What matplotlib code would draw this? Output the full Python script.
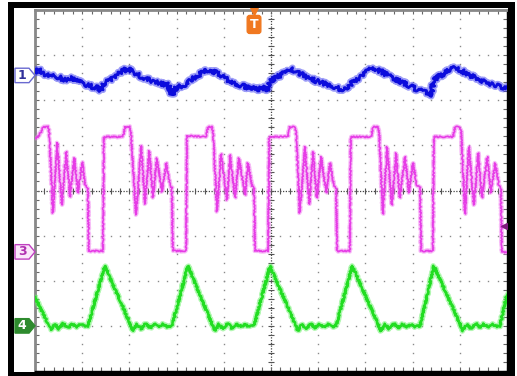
import numpy as np
import matplotlib
matplotlib.use("Agg")
import matplotlib.pyplot as plt
from matplotlib.patches import Rectangle, Polygon

# ---- data (screen divisions: x 0..10, y 0..8) ----
ch3_t = [0, 0.06, 0.13, 0.17, 0.28, 0.30, 0.38, 0.47, 0.57, 0.66, 0.74, 0.83, 0.91, 1.00, 1.06, 1.12,
         1.14, 1.44, 1.46, 1.86, 1.91, 2.01, 2.03,
         2.14, 2.25, 2.33, 2.42, 2.50, 2.58, 2.69, 2.78, 2.86, 2.90, 2.92, 3.20, 3.22, 3.62, 3.67, 3.75, 3.77,
         3.86, 3.94, 4.07, 4.13, 4.24, 4.32, 4.45, 4.51, 4.60, 4.64, 4.66, 4.94, 4.96, 5.36, 5.40, 5.51, 5.53,
         5.61, 5.72, 5.81, 5.89, 5.97, 6.06, 6.17, 6.25, 6.33, 6.38, 6.40, 6.67, 6.69, 7.12, 7.16, 7.27, 7.29,
         7.37, 7.46, 7.56, 7.65, 7.73, 7.84, 7.92, 8.01, 8.09, 8.16, 8.18, 8.43, 8.45, 8.86, 8.90, 9.00, 9.03,
         9.11, 9.19, 9.30, 9.39, 9.47, 9.58, 9.66, 9.75, 9.83, 9.87, 9.89, 10.0]
ch3_v = [5.16, 5.19, 5.30, 5.41, 5.41, 5.30, 3.50, 5.06, 3.68, 4.86, 3.86, 4.72, 3.95, 4.63, 4.12, 4.06,
         2.66, 2.66, 5.19, 5.19, 5.41, 5.41, 5.30,
         3.46, 4.99, 3.70, 4.88, 3.84, 4.72, 3.97, 4.61, 4.12, 4.06, 2.66, 2.66, 5.21, 5.19, 5.41, 5.41, 5.30,
         3.53, 4.81, 3.79, 4.79, 3.84, 4.72, 3.90, 4.61, 4.10, 4.06, 2.66, 2.66, 5.19, 5.19, 5.41, 5.41, 5.30,
         3.50, 4.97, 3.70, 4.86, 3.84, 4.75, 3.95, 4.61, 4.12, 4.06, 2.66, 2.66, 5.19, 5.19, 5.41, 5.41, 5.30,
         3.48, 4.97, 3.68, 4.83, 3.84, 4.75, 3.95, 4.61, 4.12, 4.06, 2.66, 2.66, 5.19, 5.19, 5.41, 5.41, 5.30,
         3.48, 4.97, 3.68, 4.83, 3.84, 4.75, 3.95, 4.61, 4.10, 4.06, 2.64, 2.62]

ch1_t = [0, 0.08, 0.19, 0.32, 0.47, 0.59, 0.74, 0.81, 0.91, 1.06, 1.21, 1.33, 1.42, 1.44, 1.55, 1.67, 1.80,
         1.95, 2.08, 2.22, 2.37, 2.54, 2.69, 2.82, 2.90, 2.99, 3.11, 3.22, 3.28, 3.43, 3.58, 3.71, 3.88,
         4.05, 4.22, 4.39, 4.56, 4.72, 4.85, 4.94, 4.98, 5.11, 5.28, 5.42, 5.59, 5.78, 6.00, 6.21, 6.40,
         6.57, 6.69, 6.82, 6.99, 7.16, 7.35, 7.56, 7.80, 8.03, 8.24, 8.41, 8.43, 8.58, 8.75, 8.92, 9.11,
         9.32, 9.53, 9.75, 9.89, 10.0]
ch1_v = [6.63, 6.67, 6.59, 6.54, 6.52, 6.47, 6.45, 6.50, 6.41, 6.36, 6.30, 6.27, 6.21, 6.36, 6.43, 6.52,
         6.61, 6.70, 6.63, 6.54, 6.47, 6.41, 6.36, 6.34, 6.12, 6.27, 6.32, 6.36, 6.45, 6.54, 6.63, 6.67,
         6.59, 6.47, 6.39, 6.32, 6.27, 6.25, 6.27, 6.21, 6.41, 6.50, 6.61, 6.70, 6.61, 6.50, 6.41, 6.34,
         6.27, 6.23, 6.36, 6.47, 6.61, 6.72, 6.63, 6.50, 6.39, 6.27, 6.19, 6.12, 6.45, 6.54, 6.65, 6.72,
         6.61, 6.50, 6.41, 6.34, 6.30, 6.27]

ch4_t = [0, 0.34, 0.42, 0.51, 0.59, 0.70, 0.78, 0.89, 0.97, 1.06, 1.12, 1.48,
         2.08, 2.16, 2.25, 2.35, 2.44, 2.52, 2.63, 2.71, 2.80, 2.90, 3.24,
         3.81, 3.90, 3.98, 4.09, 4.17, 4.26, 4.36, 4.45, 4.53, 4.64, 4.98,
         5.57, 5.66, 5.74, 5.85, 5.93, 6.02, 6.12, 6.21, 6.29, 6.38, 6.72,
         7.33, 7.42, 7.50, 7.61, 7.69, 7.78, 7.88, 7.97, 8.05, 8.16, 8.45,
         9.07, 9.15, 9.24, 9.34, 9.43, 9.51, 9.62, 9.70, 9.79, 9.85, 10.0]
ch4_v = [1.64, 0.91, 1.04, 0.93, 1.06, 0.95, 1.04, 0.98, 1.04, 0.98, 1.00, 2.33,
         0.89, 1.04, 0.93, 1.06, 0.95, 1.04, 0.98, 1.04, 0.98, 1.00, 2.33,
         0.89, 1.04, 0.93, 1.06, 0.95, 1.04, 0.98, 1.04, 0.98, 1.00, 2.33,
         0.89, 1.04, 0.93, 1.06, 0.95, 1.04, 0.98, 1.04, 0.98, 1.00, 2.33,
         0.89, 1.04, 0.93, 1.06, 0.95, 1.04, 0.98, 1.04, 0.98, 1.00, 2.33,
         0.89, 1.04, 0.93, 1.06, 0.95, 1.04, 0.98, 1.04, 0.98, 1.00, 1.71]

channel_labels = ["1", "3", "4"]
channel_offsets = [6.55, 2.64, 1.00]
trigger_pos = 4.64
trigger_level = 3.22

# ---- figure ----
W, H = 517, 376
fig = plt.figure(figsize=(W / 100, H / 100), dpi=100)
fig.patch.set_facecolor("white")
ax = fig.add_axes([35 / W, 5 / H, 472 / W, 361 / H])
ax.set_xlim(0, 10)
ax.set_ylim(0, 8)
ax.set_facecolor("white")

# graticule
gc = "#8a8a8a"
fine = np.arange(0.2, 10.0, 0.2)
fine_y = np.arange(0.2, 8.0, 0.2)
for gx in [1, 2, 3, 4, 6, 7, 8, 9]:
    ax.plot(np.full_like(fine_y, gx), fine_y, ls="none", marker="s", ms=1.0, color=gc, mew=0, zorder=1)
for gy in [1, 2, 3, 5, 6, 7]:
    ax.plot(fine, np.full_like(fine, gy), ls="none", marker="s", ms=1.0, color=gc, mew=0, zorder=1)
ax.axhline(4, color="#444444", lw=0.9, ls=(0, (1, 1.2)), zorder=1)
ax.axvline(5, color="#444444", lw=0.9, ls=(0, (1, 1.2)), zorder=1)
ax.plot(fine, np.full_like(fine, 4), ls="none", marker="|", ms=4, mew=0.8, color="#555555", zorder=1)
ax.plot(np.full_like(fine_y, 5), fine_y, ls="none", marker="_", ms=4, mew=0.8, color="#555555", zorder=1)

ax.set_xticks(np.arange(0, 10.01, 0.2))
ax.set_yticks(np.arange(0, 8.01, 0.2))
ax.tick_params(axis="both", which="both", direction="in", length=3, width=0.8, color="#666666",
               top=True, bottom=True, left=True, right=True,
               labelbottom=False, labelleft=False)
for s in ["top", "left"]:
    ax.spines[s].set_color("#888888")
    ax.spines[s].set_linewidth(2)
for s in ["bottom", "right"]:
    ax.spines[s].set_color("black")
    ax.spines[s].set_linewidth(1)

# traces
def trace(t, v, color, halo, lw, halo_extra, sketch):
    l1, = ax.plot(t, v, color=halo, lw=lw + halo_extra, alpha=0.5, zorder=3, solid_joinstyle="round")
    l2, = ax.plot(t, v, color=color, lw=lw, zorder=4, solid_joinstyle="round")
    if sketch:
        l1.set_sketch_params(*sketch)
        l2.set_sketch_params(*sketch)

trace(ch1_t, ch1_v, "#0c0cdc", "#3c3cf0", 2.0, 2.5, (2.2, 1.6, 2.0))
trace(ch3_t, ch3_v, "#e63ce6", "#f07cf0", 1.2, 1.8, (0.7, 2.0, 2.0))
trace(ch4_t, ch4_v, "#22dd22", "#66f066", 1.8, 2.0, (0.9, 2.0, 2.0))

# channel markers
ytr = ax.get_yaxis_transform()
styles = [("white", "#6a6ad0", "#30309a"), ("#fbe6fb", "#c040c0", "#b030b0"), ("#2e8b2e", "#2e8b2e", "white")]
for lab, off, (fc, ec, tc) in zip(channel_labels, channel_offsets, styles):
    hh = 0.16
    poly = Polygon([(-0.0424, off - hh), (-0.0127, off - hh), (0.0, off), (-0.0127, off + hh), (-0.0424, off + hh)],
                   closed=True, transform=ytr, facecolor=fc, edgecolor=ec, lw=1.0, clip_on=False, zorder=6)
    ax.add_patch(poly)
    ax.text(-0.027, off, lab, transform=ytr, ha="center", va="center", fontsize=9, fontweight="bold",
            color=tc, clip_on=False, zorder=7)

# trigger markers
ax.plot([trigger_pos], [7.97], marker="v", ms=6, color="#f07820", clip_on=False, zorder=6, ls="none")
ax.text(trigger_pos, 7.68, "T", ha="center", va="center", fontsize=9, fontweight="bold", color="white",
        bbox=dict(boxstyle="round,pad=0.2", fc="#f07820", ec="#f07820"), zorder=6)
ax.plot([9.94], [trigger_level], marker="<", ms=5, color="#801a80", ls="none", zorder=6, clip_on=False)

# black bezel
for (x0, y0, w, h) in [(8, 2, 6, 374), (8, 2, 507, 6), (508, 2, 7, 374), (8, 372, 507, 4)]:
    fig.add_artist(Rectangle((x0 / W, 1 - (y0 + h) / H), w / W, h / H, transform=fig.transFigure,
                             facecolor="black", edgecolor="none", zorder=10))

fig.savefig("out.png", dpi=100)
